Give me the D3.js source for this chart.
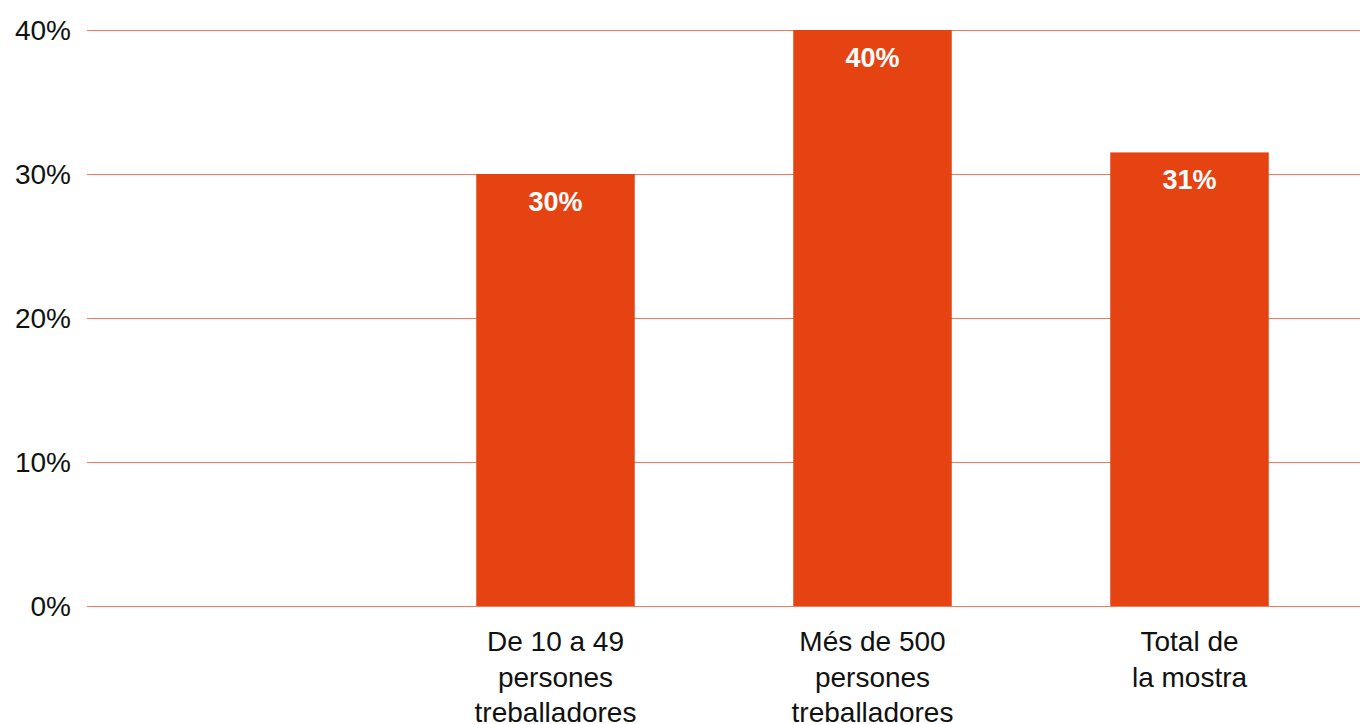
<!DOCTYPE html>
<html>
<head>
<meta charset="utf-8">
<script src="https://cdnjs.cloudflare.com/ajax/libs/d3/7.8.5/d3.min.js"></script>
<style>
body { margin: 0; background: #fff; font-family: "Liberation Sans", Arial, sans-serif; }
</style>
</head>
<body>
<svg width="1360" height="724"></svg>
<script>
// data
var categories = ["", "De 10 a 49 persones treballadores", "Més de 500 persones treballadores", "Total de la mostra"];
var labelLines = [[], ["De 10 a 49", "persones", "treballadores"], ["Més de 500", "persones", "treballadores"], ["Total de", "la mostra"]];
var values = [null, 30, 40, 31.5];
var valueLabels = ["", "30%", "40%", "31%"];
var yTicks = [0, 10, 20, 30, 40];

var barColor = "#e64312";
var gridColor = "#ee7b5a";

var svg = d3.select("svg");

var x = d3.scaleBand()
    .domain(categories)
    .range([80, 1348])
    .paddingInner(0.5)
    .paddingOuter(0.25);

var y = d3.scaleLinear()
    .domain([0, 40])
    .range([606, 30]);

// gridlines
svg.append("g")
  .selectAll("line")
  .data(yTicks)
  .enter().append("line")
    .attr("x1", 87)
    .attr("x2", 1360)
    .attr("y1", function(d) { return y(d) + 0.5; })
    .attr("y2", function(d) { return y(d) + 0.5; })
    .attr("stroke", gridColor)
    .attr("stroke-width", 1.2);

// y tick labels
svg.append("g")
  .selectAll("text")
  .data(yTicks)
  .enter().append("text")
    .attr("x", 71)
    .attr("y", function(d) { return y(d) + 10; })
    .attr("text-anchor", "end")
    .attr("font-size", "28px")
    .attr("fill", "#111")
    .text(function(d) { return d + "%"; });

var data = categories.map(function(c, i) {
  return {cat: c, v: values[i], lab: valueLabels[i], lines: labelLines[i]};
});

// bars
svg.append("g")
  .selectAll("rect")
  .data(data.filter(function(d) { return d.v != null; }))
  .enter().append("rect")
    .attr("x", function(d) { return x(d.cat); })
    .attr("y", function(d) { return y(d.v); })
    .attr("width", x.bandwidth())
    .attr("height", function(d) { return y(0) - y(d.v); })
    .attr("fill", barColor);

// value labels
svg.append("g")
  .selectAll("text")
  .data(data.filter(function(d) { return d.v != null; }))
  .enter().append("text")
    .attr("x", function(d) { return x(d.cat) + x.bandwidth() / 2; })
    .attr("y", function(d) { return y(d.v) + 37; })
    .attr("text-anchor", "middle")
    .attr("font-size", "27px")
    .attr("font-weight", "bold")
    .attr("fill", "#fff")
    .text(function(d) { return d.lab; });

// category labels
var cl = svg.append("g")
  .selectAll("text")
  .data(data)
  .enter().append("text")
    .attr("x", function(d) { return x(d.cat) + x.bandwidth() / 2; })
    .attr("y", 651)
    .attr("text-anchor", "middle")
    .attr("font-size", "28px")
    .attr("fill", "#111");
cl.selectAll("tspan")
  .data(function(d) { return d.lines; })
  .enter().append("tspan")
    .attr("x", function() { var p = d3.select(this.parentNode).datum(); return x(p.cat) + x.bandwidth() / 2; })
    .attr("dy", function(d, i) { return i === 0 ? 0 : 35.5; })
    .text(function(d) { return d; });
</script>
</body>
</html>
